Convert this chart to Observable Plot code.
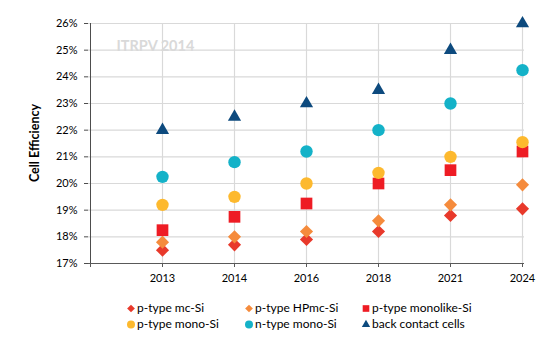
<!DOCTYPE html>
<html>
<head>
<meta charset="utf-8">
<script src="https://cdn.jsdelivr.net/npm/d3@7"></script>
<script src="https://cdn.jsdelivr.net/npm/@observablehq/plot@0.6"></script>
<style>
  html, body { margin: 0; padding: 0; background: #fff; }
  #wrap { position: relative; width: 544px; height: 350px; font-family: Lato, "Liberation Sans", sans-serif; }
  #legend { position: absolute; left: 0; top: 298px; width: 544px; height: 40px; font-size: 12px; color: #000; }
  .item { position: absolute; height: 19px; line-height: 19px; white-space: nowrap; }
  .item svg { position: absolute; left: -11px; top: 4.5px; }
  #ylabel { position: absolute; left: 34px; top: 143px; transform: translate(-50%, -50%) rotate(-90deg); font-weight: bold; font-size: 12.5px; white-space: nowrap; color: #000; }
</style>
</head>
<body>
<div id="wrap"><div id="chart"></div><div id="ylabel">Cell Efficiency</div><div id="legend"></div></div>
<script>
const years = ["2013", "2014", "2016", "2018", "2021", "2024"];
const yTicks = [17, 18, 19, 20, 21, 22, 23, 24, 25, 26];
const seriesNames = ["p-type mc-Si", "p-type HPmc-Si", "p-type monolike-Si", "p-type mono-Si", "n-type mono-Si", "back contact cells"];
const mcSi = [17.5, 17.7, 17.9, 18.2, 18.8, 19.05];
const hpmcSi = [17.8, 18.0, 18.2, 18.6, 19.2, 19.95];
const monolikeSi = [18.25, 18.75, 19.25, 20.0, 20.5, 21.2];
const pMonoSi = [19.2, 19.5, 20.0, 20.4, 21.0, 21.55];
const nMonoSi = [20.25, 20.8, 21.2, 22.0, 23.0, 24.25];
const backContact = [22.0, 22.5, 23.0, 23.5, 25.0, 26.0];

const seriesValues = [mcSi, hpmcSi, monolikeSi, pMonoSi, nMonoSi, backContact];
const colors = ["#e8392b", "#f58b3c", "#ee1c24", "#fdb92e", "#14b2c8", "#0d4a7e"];
const symbols = ["diamond2", "diamond2", "square", "circle", "circle", "triangle"];
const radii = [5.9, 5.9, 6.6, 6.2, 6.2, 4.9];

const dots = seriesValues.map((vals, i) =>
  Plot.dot(years.map((yr, j) => ({year: yr, value: vals[j], series: seriesNames[i]})), {
    x: "year", y: "value", symbol: symbols[i], fill: colors[i], r: radii[i]
  })
);

const chart = Plot.plot({
  width: 544, height: 292,
  marginLeft: 88, marginRight: 20, marginTop: 23, marginBottom: 29,
  style: {fontFamily: "Lato, 'Liberation Sans', sans-serif", fontSize: "11px", color: "#000", background: "#fff"},
  x: {type: "point", domain: ["", ...years], padding: 0},
  y: {domain: [17, 26]},
  marks: [
    Plot.gridY(yTicks, {stroke: "#d9d9d9", strokeOpacity: 1, strokeWidth: 1.2}),
    Plot.gridX(years, {stroke: "#d9d9d9", strokeOpacity: 1, strokeWidth: 1.2}),
    Plot.axisY(yTicks, {tickFormat: d => d + "%", tickSize: 4, tickPadding: 7, stroke: "#4d4d4d", label: null}),
    Plot.axisX(["", ...years], {tickSize: 4, tickPadding: 7, stroke: "#595959", label: null}),
    Plot.ruleX([""], {stroke: "#4d4d4d"}),
    Plot.ruleY([17], {stroke: "#595959"}),
    Plot.text(["ITRPV 2014"], {frameAnchor: "top-left", dx: 28, dy: 17, fill: "#d9d9d9", fontWeight: "bold", fontSize: 14.5}),
    ...dots
  ]
});
document.getElementById("chart").appendChild(chart);

// legend
const legend = document.getElementById("legend");
const colX = [137, 255, 372];
seriesNames.forEach((name, i) => {
  const item = document.createElement("div");
  item.className = "item";
  item.style.left = colX[i % 3] + "px";
  item.style.top = (Math.floor(i / 3) * 16) + "px";
  const sym = {diamond2: d3.symbolDiamond2, square: d3.symbolSquare, circle: d3.symbolCircle, triangle: d3.symbolTriangle}[symbols[i]];
  const sizes = {diamond2: 38, square: 44, circle: 50, triangle: 30};
  const svg = d3.create("svg").attr("width", 10).attr("height", 10);
  svg.append("path").attr("transform", "translate(5,5.5)").attr("d", d3.symbol(sym, sizes[symbols[i]])()).attr("fill", colors[i]);
  item.appendChild(svg.node());
  item.appendChild(document.createTextNode(name));
  legend.appendChild(item);
});
</script>
</body>
</html>
